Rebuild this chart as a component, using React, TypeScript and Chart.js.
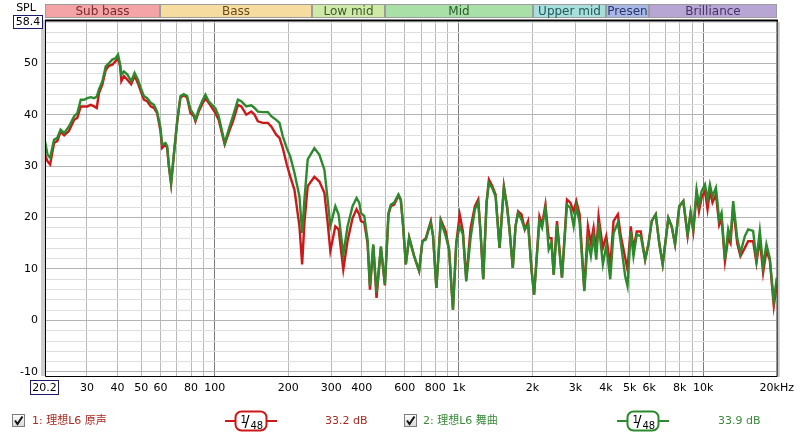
import React, { useEffect, useRef } from 'react';
import { Chart, registerables } from 'chart.js';

Chart.register(...registerables);

// Frequencies (Hz) shared by both measured curves
const freqs = [
  20.2, 20.7, 21.2, 22.0, 22.7, 23.4, 24.2, 25.3, 26.6, 27.4, 28.3, 29.2, 30.1, 31.1, 32.1, 32.9, 33.6, 34.7, 35.8, 36.9,
  38.1, 39.3, 40.2, 41.0, 41.5, 42.5, 43.9, 45.5, 47.0, 48.5, 49.8, 51.3, 52.9, 54.7, 56.4, 58.1, 60.0, 60.9, 62.9, 63.9,
  64.9, 66.3, 68.0, 70.2, 72.4, 74.7, 77.1, 79.6, 82.1, 83.4, 86.0, 88.8, 91.6, 94.5, 97.5, 100.7, 103.8, 109.9, 115.1, 118.8,
  124.5, 128.5, 134.7, 141.2, 145.6, 150.2, 157.4, 165.0, 170.4, 178.6, 184.2, 190.0, 197.3, 203.7, 212.1, 222.3, 228.0, 233.0, 240.3, 255.9,
  268.3, 281.2, 290.0, 297.5, 311.8, 321.6, 336.1, 349.9, 366.8, 380.8, 390.6, 396.9, 409.6, 422.5, 432.1, 445.8, 459.7, 479.1, 497.5, 514.6,
  526.3, 543.0, 565.3, 578.2, 590.9, 606.0, 625.2, 655.3, 686.8, 708.5, 731.5, 766.7, 783.4, 808.0, 842.2, 882.7, 910.6, 944.9, 975, 1007,
  1038, 1071, 1116, 1162, 1199, 1226, 1257, 1297, 1326, 1367, 1412, 1466, 1527, 1574, 1610, 1661, 1704, 1746, 1803, 1860,
  1918, 1981, 2030, 2135, 2188, 2259, 2330, 2390, 2442, 2519, 2640, 2767, 2857, 2947, 3023, 3118, 3259, 3371, 3467, 3556,
  3648, 3728, 3882, 4008, 4162, 4293, 4470, 4597, 4791, 4896, 5050, 5180, 5343, 5547, 5781, 5964, 6152, 6388, 6614, 6823,
  7197, 7424, 7666, 7980, 8287, 8628, 8875, 9103, 9391, 9604, 9842, 10160, 10410, 10650, 10910, 11270, 11620, 11880, 12270, 12650,
  12930, 13260, 13770, 14200, 14800, 15270, 16000, 16510, 17040, 17580, 18130, 18720, 19440, 20000,
];

// Series 2: 理想L6 舞曲 (green)
const greenSpl = [
  34.8, 32.2, 31.6, 35.1, 35.5, 37.1, 36.4, 37.7, 39.7, 40.3, 42.9, 42.9, 43.2, 43.4, 43.2, 43.5, 44.9, 46.5, 49.4, 50.0,
  50.7, 51.0, 51.7, 49.8, 47.8, 48.4, 47.8, 46.5, 48.1, 46.8, 45.2, 43.6, 43.2, 42.3, 41.9, 40.6, 37.4, 34.2, 34.5, 33.9,
  30.3, 26.7, 32.2, 38.7, 43.6, 44.0, 43.6, 41.0, 40.0, 39.0, 41.0, 42.6, 43.9, 42.6, 41.9, 41.2, 39.7, 34.5, 37.7, 39.7,
  42.9, 42.6, 41.6, 41.8, 41.3, 40.6, 40.5, 40.5, 39.7, 39.0, 38.4, 35.8, 33.5, 31.9, 28.7, 24.1, 17.0, 23.5, 31.3, 33.5,
  32.2, 29.3, 23.5, 18.3, 22.2, 20.6, 12.8, 18.3, 22.2, 23.8, 22.9, 20.9, 20.3, 15.7, 6.7, 14.8, 5.4, 14.4, 7.0, 20.9,
  22.5, 22.9, 24.5, 23.5, 18.3, 10.9, 16.1, 12.5, 9.6, 15.4, 15.7, 19.0, 16.4, 6.3, 19.3, 16.4, 13.8, 2.1, 15.1, 18.3,
  16.7, 7.6, 16.1, 21.6, 22.9, 17.0, 8.0, 22.9, 26.7, 25.8, 24.1, 14.1, 25.8, 21.9, 17.7, 10.2, 18.3, 20.9, 19.6, 17.7,
  18.6, 9.9, 5.0, 19.3, 18.0, 21.9, 13.8, 15.1, 8.9, 18.6, 8.3, 22.5, 21.9, 18.3, 22.2, 19.0, 5.7, 15.7, 12.5, 16.4,
  11.8, 19.0, 10.9, 14.5, 8.0, 17.0, 19.0, 15.1, 8.6, 6.7, 17.3, 12.5, 16.7, 16.4, 11.8, 14.8, 19.3, 20.6, 14.8, 10.9,
  19.9, 18.3, 14.8, 22.2, 23.2, 16.7, 20.9, 17.7, 25.4, 22.5, 25.1, 26.4, 23.5, 26.4, 24.1, 25.8, 19.6, 20.9, 11.8, 17.7,
  16.0, 23.2, 16.0, 13.1, 16.4, 17.7, 17.4, 11.8, 17.4, 10.5, 14.8, 12.1, 3.8, 8.3,
];

// Series 1: 理想L6 原声 (red)
const redSpl = [
  32.2, 30.9, 30.3, 34.5, 34.9, 36.7, 36.0, 36.8, 39.0, 39.4, 41.6, 41.6, 41.6, 41.9, 41.6, 41.3, 44.2, 45.9, 48.7, 49.5,
  49.7, 50.4, 51.0, 49.4, 46.5, 47.5, 46.8, 45.9, 47.5, 46.1, 44.6, 42.9, 42.6, 41.6, 41.3, 40.3, 36.8, 33.5, 34.2, 33.5,
  30.0, 26.5, 32.0, 38.5, 43.3, 43.8, 43.3, 40.3, 39.7, 38.7, 40.6, 42.0, 43.2, 42.3, 41.3, 40.3, 39.0, 34.2, 37.0, 38.7,
  41.9, 41.6, 40.0, 40.6, 40.0, 38.7, 38.4, 38.4, 37.7, 36.1, 35.5, 33.5, 30.3, 28.0, 25.4, 18.3, 10.9, 19.0, 26.1, 27.9,
  27.0, 24.8, 19.0, 13.5, 18.3, 17.7, 9.9, 15.5, 19.9, 21.6, 20.6, 19.3, 19.0, 15.0, 6.0, 14.5, 4.4, 14.2, 6.8, 20.6,
  22.2, 22.5, 24.3, 23.3, 18.3, 10.9, 16.1, 12.5, 9.6, 15.4, 16.0, 19.3, 16.4, 6.3, 19.6, 17.3, 13.8, 2.1, 15.1, 20.6,
  17.3, 8.0, 18.0, 22.2, 23.5, 17.0, 8.0, 22.9, 27.4, 26.2, 24.5, 14.1, 26.1, 22.2, 17.7, 10.2, 18.3, 21.2, 20.6, 17.7,
  19.3, 9.9, 5.0, 20.2, 18.6, 22.5, 16.0, 16.0, 8.9, 19.3, 8.3, 23.5, 22.9, 21.2, 23.2, 20.6, 6.0, 18.3, 15.1, 18.0,
  13.4, 20.2, 14.1, 16.4, 10.6, 19.3, 20.6, 16.4, 12.2, 9.9, 18.3, 13.8, 17.3, 17.3, 11.8, 14.8, 19.3, 20.6, 14.8, 10.9,
  19.9, 18.3, 14.8, 22.2, 23.2, 16.4, 20.9, 17.3, 24.7, 21.2, 23.8, 25.2, 21.6, 25.2, 22.9, 24.5, 18.6, 19.9, 11.5, 16.0,
  15.0, 22.2, 15.0, 12.5, 14.1, 15.4, 15.4, 11.2, 15.8, 9.3, 13.5, 11.8, 2.8, 7.0,
];

const xTickValues = [30, 40, 50, 60, 70, 80, 90, 100, 200, 300, 400, 500, 600, 700, 800, 900, 1000, 2000, 3000, 4000, 5000, 6000, 7000, 8000, 9000, 10000, 20000];
const xTickLabels = ['30', '40', '50', '60', '', '80', '', '100', '200', '300', '400', '', '600', '', '800', '', '1k', '2k', '3k', '4k', '5k', '6k', '', '8k', '', '10k', '20kHz'];
const yTickValues = [-10, -8, -6, -4, -2, 0, 2, 4, 6, 8, 10, 12, 14, 16, 18, 20, 22, 24, 26, 28, 30, 32, 34, 36, 38, 40, 42, 44, 46, 48, 50, 52, 54, 56, 58];
const yTickLabels = ['-10', '', '', '', '', '0', '', '', '', '', '10', '', '', '', '', '20', '', '', '', '', '30', '', '', '', '', '40', '', '', '', '', '50', '', '', '', ''];

const bandNames = ['Sub bass', 'Bass', 'Low mid', 'Mid', 'Upper mid', 'Presen', 'Brilliance'];
const bandEdges = [20.2, 60, 250, 500, 2000, 4000, 6000, 20000];
const bandFills = ['#f4a3a6', '#f6dc9e', '#cfe9a8', '#a8e0a8', '#a8dedc', '#a9b7e6', '#b7a6d4'];
const bandTextColors = ['#7a2a2a', '#6a4a1a', '#3d5a28', '#2a5a2a', '#255a5a', '#26366a', '#48306a'];

const seriesNames = ['1: 理想L6 原声', '2: 理想L6 舞曲'];
const seriesLevels = ['33.2 dB', '33.9 dB'];
const seriesColors = ['#cc1818', '#2c8a2c'];
const legendTextColors = ['#a82a22', '#3a8a3a'];

const X_MIN = 20.2;
const X_MAX = 20000;
const Y_MIN = -10.8;
const Y_MAX = 58.4;

const FONT = '"DejaVu Sans", "Noto Sans CJK SC", sans-serif';

function drawCheckbox(ctx: CanvasRenderingContext2D, x: number, y: number) {
  const g = ctx.createLinearGradient(0, y, 0, y + 13);
  g.addColorStop(0, '#ffffff');
  g.addColorStop(1, '#d6d6d6');
  ctx.fillStyle = g;
  ctx.fillRect(x, y, 13, 13);
  ctx.strokeStyle = '#7d7d7d';
  ctx.lineWidth = 1;
  ctx.strokeRect(x + 0.5, y + 0.5, 12, 12);
  ctx.strokeStyle = '#111';
  ctx.lineWidth = 2;
  ctx.beginPath();
  ctx.moveTo(x + 3, y + 6.5);
  ctx.lineTo(x + 5.5, y + 10);
  ctx.lineTo(x + 10.5, y + 2.5);
  ctx.stroke();
}

function drawSmoothIcon(ctx: CanvasRenderingContext2D, x0: number, x1: number, cy: number, color: string) {
  ctx.strokeStyle = color;
  ctx.lineWidth = 2;
  ctx.beginPath();
  ctx.moveTo(x0, cy);
  ctx.lineTo(x1, cy);
  ctx.stroke();
  const w = 31;
  const h = 19;
  const rx = (x0 + x1) / 2 - w / 2;
  const ry = cy - h / 2;
  ctx.fillStyle = '#ffffff';
  ctx.beginPath();
  ctx.roundRect(rx, ry, w, h, 6);
  ctx.fill();
  ctx.stroke();
  ctx.fillStyle = '#000';
  ctx.textAlign = 'left';
  ctx.textBaseline = 'alphabetic';
  ctx.font = `10px ${FONT}`;
  ctx.fillText('1', rx + 5, ry + 11);
  ctx.font = `15px ${FONT}`;
  ctx.fillText('/', rx + 9, ry + 15);
  ctx.font = `10px ${FONT}`;
  ctx.fillText('48', rx + 15, ry + 17);
}

const decorPlugin = {
  id: 'decor',
  beforeDraw(chart: any) {
    const { ctx } = chart;
    ctx.save();
    ctx.fillStyle = '#ffffff';
    ctx.fillRect(0, 0, chart.width, chart.height);
    ctx.restore();
  },
  afterDraw(chart: any) {
    const { ctx, chartArea } = chart;
    const xs = chart.scales.x;
    const { left, right, top, bottom } = chartArea;
    ctx.save();

    // frequency bands header
    ctx.font = `12px ${FONT}`;
    ctx.textBaseline = 'middle';
    ctx.textAlign = 'center';
    for (let i = 0; i < bandNames.length; i++) {
      const bx0 = Math.round(xs.getPixelForValue(bandEdges[i]));
      const bx1 = Math.round(xs.getPixelForValue(bandEdges[i + 1]));
      ctx.fillStyle = bandFills[i];
      ctx.fillRect(bx0, 4, bx1 - bx0, 14);
      ctx.strokeStyle = '#9c9c9c';
      ctx.lineWidth = 1;
      ctx.strokeRect(bx0 + 0.5, 4.5, bx1 - bx0 - 1, 13);
      ctx.save();
      ctx.beginPath();
      ctx.rect(bx0, 4, bx1 - bx0, 14);
      ctx.clip();
      ctx.fillStyle = bandTextColors[i];
      ctx.fillText(bandNames[i], (bx0 + bx1) / 2, 11.5);
      ctx.restore();
    }

    // frame
    ctx.fillStyle = '#cfcfcf';
    ctx.fillRect(left - 4, top, 4, bottom - top);
    ctx.strokeStyle = '#000';
    ctx.lineWidth = 1;
    ctx.beginPath();
    ctx.moveTo(left + 0.5, top);
    ctx.lineTo(left + 0.5, bottom + 0.5);
    ctx.lineTo(right + 0.5, bottom + 0.5);
    ctx.lineTo(right + 0.5, top);
    ctx.stroke();
    ctx.lineWidth = 2;
    ctx.beginPath();
    ctx.moveTo(left, top + 0.5);
    ctx.lineTo(right + 1, top + 0.5);
    ctx.stroke();
    ctx.strokeStyle = '#c8c8c8';
    ctx.lineWidth = 2;
    ctx.beginPath();
    ctx.moveTo(right + 2, top + 2);
    ctx.lineTo(right + 2, bottom + 1);
    ctx.stroke();

    // SPL label and axis-limit boxes
    ctx.font = `11px ${FONT}`;
    ctx.textAlign = 'center';
    ctx.textBaseline = 'middle';
    ctx.fillStyle = '#000';
    ctx.fillText('SPL', 26, 8);
    ctx.fillStyle = '#ffffff';
    ctx.fillRect(13, 15, 30, 14);
    ctx.strokeStyle = '#1c1c6a';
    ctx.lineWidth = 1;
    ctx.strokeRect(13.5, 15.5, 29, 13);
    ctx.fillStyle = '#000';
    ctx.fillText(Y_MAX.toFixed(1), 28, 22.5);

    ctx.fillStyle = '#ffffff';
    ctx.fillRect(30, 380, 29, 15);
    ctx.strokeStyle = '#1c1c6a';
    ctx.strokeRect(30.5, 380.5, 28, 14);
    ctx.fillStyle = '#000';
    ctx.fillText(X_MIN.toFixed(1), 44.5, 388);

    // legend
    const legendY = 421;
    const cbX = [12, 404];
    const nameX = [32, 423];
    const iconX = [[225, 277], [617, 669]];
    const levelX = [325, 718];
    for (let i = 0; i < 2; i++) {
      drawCheckbox(ctx, cbX[i], legendY - 7);
      ctx.font = `11px ${FONT}`;
      ctx.textAlign = 'left';
      ctx.textBaseline = 'middle';
      ctx.fillStyle = legendTextColors[i];
      ctx.fillText(seriesNames[i], nameX[i], legendY);
      drawSmoothIcon(ctx, iconX[i][0], iconX[i][1], legendY, seriesColors[i]);
      ctx.font = `11px ${FONT}`;
      ctx.textAlign = 'left';
      ctx.textBaseline = 'middle';
      ctx.fillStyle = legendTextColors[i];
      ctx.fillText(seriesLevels[i], levelX[i], legendY);
    }
    ctx.restore();
  },
};

export default function App() {
  const canvasRef = useRef<HTMLCanvasElement | null>(null);

  useEffect(() => {
    const canvas = canvasRef.current;
    if (!canvas) return;
    const chart = new Chart(canvas, {
      type: 'line',
      data: {
        datasets: [
          {
            label: seriesNames[1],
            data: freqs.map((f, i) => ({ x: f, y: greenSpl[i] })),
            borderColor: seriesColors[1],
            borderWidth: 2.4,
            pointRadius: 0,
            tension: 0,
            order: 0,
          },
          {
            label: seriesNames[0],
            data: freqs.map((f, i) => ({ x: f, y: redSpl[i] })),
            borderColor: seriesColors[0],
            borderWidth: 2.4,
            pointRadius: 0,
            tension: 0,
            order: 1,
          },
        ],
      },
      options: {
        responsive: false,
        animation: false,
        layout: { padding: { top: 20, right: 21, left: 0, bottom: 0 } },
        plugins: { legend: { display: false }, tooltip: { enabled: false }, title: { display: false } },
        scales: {
          x: {
            type: 'logarithmic',
            min: X_MIN,
            max: X_MAX,
            border: { display: false },
            grid: {
              drawTicks: false,
              color: (c: any) => {
                const v = c.tick ? c.tick.value : 0;
                return v === 100 || v === 1000 || v === 10000 ? '#7a7a7a' : '#b9b9b9';
              },
              lineWidth: 1,
            },
            afterBuildTicks: (s: any) => {
              s.ticks = xTickValues.map((v) => ({ value: v }));
            },
            afterFit: (s: any) => {
              s.height = 61;
            },
            ticks: {
              autoSkip: false,
              maxRotation: 0,
              padding: 6,
              color: '#000',
              font: { family: FONT, size: 11 },
              callback: (v: any) => {
                const idx = xTickValues.indexOf(Number(v));
                return idx >= 0 ? xTickLabels[idx] : '';
              },
            },
          },
          y: {
            type: 'linear',
            min: Y_MIN,
            max: Y_MAX,
            border: { display: false },
            grid: {
              drawTicks: false,
              color: (c: any) => {
                const v = c.tick ? c.tick.value : 0;
                return v % 10 === 0 ? '#b4b4b4' : '#dedede';
              },
              lineWidth: 1,
            },
            afterBuildTicks: (s: any) => {
              s.ticks = yTickValues.map((v) => ({ value: v }));
            },
            afterFit: (s: any) => {
              s.width = 45;
            },
            ticks: {
              autoSkip: false,
              padding: 7,
              color: '#000',
              font: { family: FONT, size: 11 },
              callback: (v: any) => {
                const idx = yTickValues.indexOf(Number(v));
                return idx >= 0 ? yTickLabels[idx] : '';
              },
            },
          },
        },
      },
      plugins: [decorPlugin],
    } as any);
    return () => chart.destroy();
  }, []);

  return (
    <div style={{ position: 'fixed', left: 0, top: 0, width: 800, height: 437, background: '#fff' }}>
      <canvas ref={canvasRef} width={800} height={437} style={{ display: 'block' }} />
    </div>
  );
}
